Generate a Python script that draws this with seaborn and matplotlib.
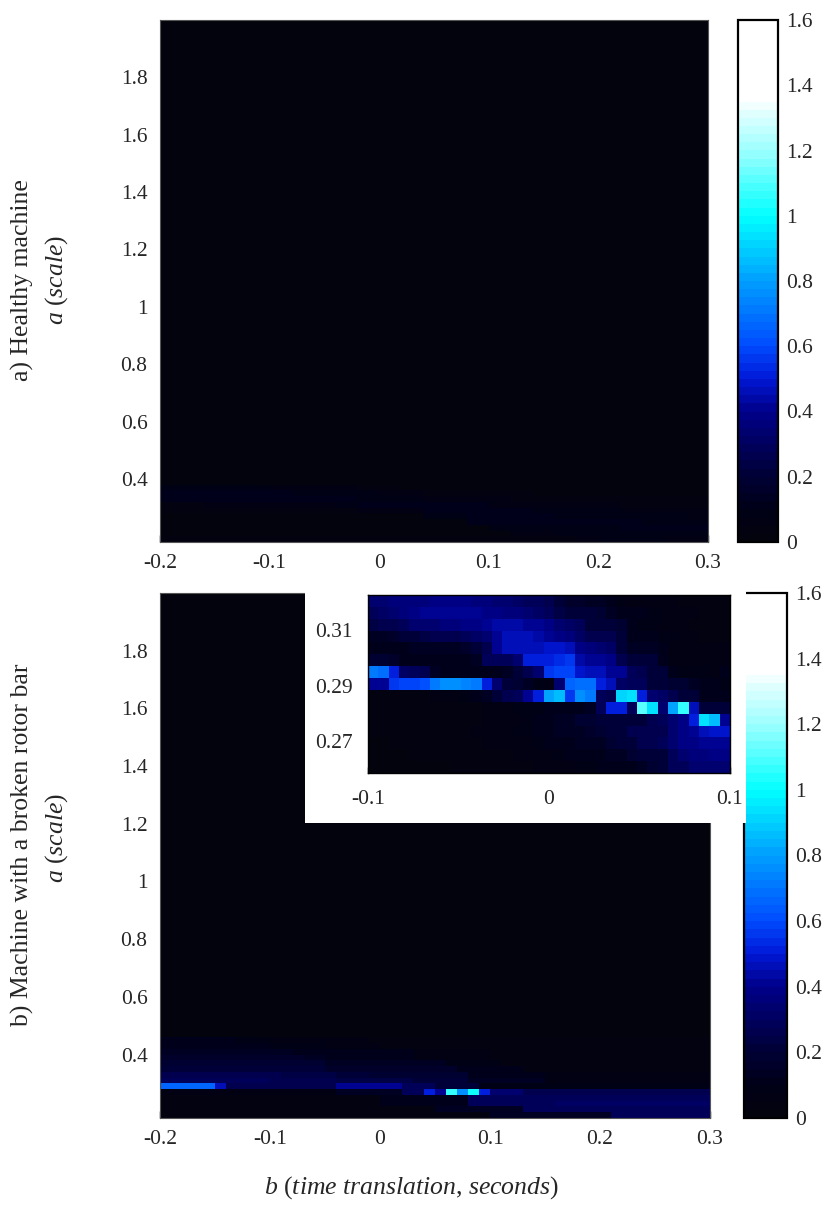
import numpy as np
import matplotlib
matplotlib.use("Agg")
import matplotlib.pyplot as plt
from matplotlib.colors import LinearSegmentedColormap
from matplotlib.patches import Rectangle
import seaborn as sns

# ---- grids -------------------------------------------------------------
a_max, a_min, a_step = 2.0, 0.18, 0.02          # scale axis of both main panels
b_min_main = -0.2
b_step_top = 0.02                               # healthy panel: 25 columns
b_step_bot = 0.01                               # broken bar panel: 50 columns
inset_a_top, inset_a_bot = 0.3224, 0.2587        # zoomed window
inset_b_min, inset_b_max = -0.1, 0.1

cbar_ticks = [0, 0.2, 0.4, 0.6, 0.8, 1.0, 1.2, 1.4, 1.6]
main_xticks = [-0.2, -0.1, 0, 0.1, 0.2, 0.3]
main_yticks = [0.4, 0.6, 0.8, 1.0, 1.2, 1.4, 1.6, 1.8]
inset_xticks = [-0.1, 0, 0.1]
inset_yticks = [0.31, 0.29, 0.27]

# ---- a) healthy machine: rows a = 0.37 ... 0.19 (everything above is ~0)
healthy_band = [
    [0.08, 0.08, 0.09, 0.08, 0.08, 0.07, 0.07, 0.06, 0.05, 0.03, 0.03, 0.02, 0.02, 0.02, 0.02, 0.02, 0.02, 0.02, 0.02, 0.02, 0.02, 0.02, 0.02, 0.02, 0.02],
    [0.10, 0.10, 0.11, 0.10, 0.10, 0.10, 0.09, 0.09, 0.08, 0.08, 0.06, 0.05, 0.03, 0.03, 0.03, 0.03, 0.03, 0.02, 0.02, 0.02, 0.02, 0.02, 0.02, 0.02, 0.02],
    [0.12, 0.12, 0.12, 0.11, 0.11, 0.11, 0.10, 0.10, 0.10, 0.09, 0.08, 0.08, 0.07, 0.06, 0.06, 0.05, 0.04, 0.03, 0.03, 0.03, 0.03, 0.03, 0.03, 0.03, 0.03],
    [0.04, 0.04, 0.05, 0.05, 0.05, 0.06, 0.06, 0.07, 0.08, 0.12, 0.12, 0.12, 0.12, 0.11, 0.10, 0.06, 0.05, 0.05, 0.05, 0.05, 0.05, 0.04, 0.04, 0.04, 0.04],
    [0.03, 0.03, 0.03, 0.03, 0.03, 0.03, 0.03, 0.04, 0.04, 0.05, 0.06, 0.07, 0.10, 0.10, 0.10, 0.10, 0.10, 0.09, 0.09, 0.08, 0.08, 0.07, 0.07, 0.06, 0.06],
    [0.02, 0.02, 0.02, 0.02, 0.02, 0.02, 0.02, 0.02, 0.02, 0.02, 0.02, 0.02, 0.09, 0.09, 0.10, 0.10, 0.10, 0.10, 0.09, 0.09, 0.09, 0.08, 0.08, 0.08, 0.07],
    [0.02, 0.02, 0.02, 0.02, 0.02, 0.02, 0.02, 0.02, 0.02, 0.02, 0.02, 0.02, 0.02, 0.02, 0.10, 0.10, 0.10, 0.10, 0.10, 0.10, 0.10, 0.10, 0.09, 0.09, 0.09],
    [0.02, 0.02, 0.02, 0.02, 0.02, 0.02, 0.02, 0.02, 0.02, 0.02, 0.02, 0.02, 0.02, 0.02, 0.02, 0.08, 0.08, 0.09, 0.09, 0.09, 0.09, 0.10, 0.10, 0.10, 0.10],
    [0.02, 0.02, 0.02, 0.02, 0.02, 0.02, 0.02, 0.02, 0.02, 0.02, 0.02, 0.02, 0.02, 0.02, 0.02, 0.02, 0.07, 0.07, 0.08, 0.08, 0.08, 0.09, 0.09, 0.09, 0.09],
    [0.03, 0.03, 0.03, 0.03, 0.03, 0.03, 0.03, 0.03, 0.03, 0.03, 0.03, 0.03, 0.03, 0.03, 0.03, 0.03, 0.03, 0.03, 0.04, 0.06, 0.08, 0.08, 0.08, 0.06, 0.05],
]

# ---- b) broken rotor bar: rows a = 0.45 ... 0.19, 50 columns of 0.01 s
broken_band = [
    [0.10, 0.10, 0.10, 0.10, 0.10, 0.10, 0.10, 0.09, 0.09, 0.08, 0.06, 0.06, 0.06, 0.06, 0.06, 0.05, 0.05, 0.05, 0.05, 0.04, 0.03, 0.03, 0.03, 0.03, 0.03,
     0.03, 0.03, 0.03, 0.03, 0.03, 0.03, 0.03, 0.03, 0.03, 0.03, 0.03, 0.03, 0.03, 0.03, 0.03, 0.03, 0.03, 0.03, 0.03, 0.03, 0.03, 0.03, 0.03, 0.03, 0.03],
    [0.12, 0.12, 0.12, 0.12, 0.12, 0.11, 0.11, 0.10, 0.10, 0.10, 0.08, 0.08, 0.08, 0.08, 0.08, 0.07, 0.07, 0.06, 0.06, 0.05, 0.04, 0.04, 0.04, 0.04, 0.04,
     0.04, 0.04, 0.04, 0.04, 0.03, 0.03, 0.03, 0.03, 0.03, 0.03, 0.03, 0.03, 0.03, 0.03, 0.03, 0.03, 0.03, 0.03, 0.03, 0.03, 0.03, 0.03, 0.03, 0.03, 0.03],
    [0.15, 0.15, 0.15, 0.15, 0.15, 0.15, 0.15, 0.15, 0.15, 0.15, 0.14, 0.13, 0.12, 0.10, 0.10, 0.10, 0.10, 0.10, 0.10, 0.10, 0.10, 0.10, 0.10, 0.06, 0.06,
     0.06, 0.06, 0.06, 0.06, 0.06, 0.03, 0.03, 0.03, 0.03, 0.03, 0.03, 0.03, 0.03, 0.03, 0.03, 0.03, 0.03, 0.03, 0.03, 0.03, 0.03, 0.03, 0.03, 0.03, 0.03],
    [0.17, 0.17, 0.17, 0.17, 0.17, 0.17, 0.17, 0.17, 0.17, 0.17, 0.16, 0.16, 0.16, 0.13, 0.13, 0.12, 0.12, 0.12, 0.12, 0.12, 0.12, 0.12, 0.12, 0.07, 0.07,
     0.07, 0.07, 0.07, 0.07, 0.07, 0.03, 0.03, 0.03, 0.03, 0.03, 0.03, 0.03, 0.03, 0.03, 0.03, 0.03, 0.03, 0.03, 0.03, 0.03, 0.03, 0.03, 0.03, 0.03, 0.03],
    [0.19, 0.19, 0.19, 0.19, 0.19, 0.19, 0.19, 0.19, 0.19, 0.19, 0.19, 0.18, 0.18, 0.18, 0.18, 0.15, 0.15, 0.15, 0.14, 0.14, 0.14, 0.14, 0.14, 0.14, 0.14,
     0.14, 0.08, 0.08, 0.08, 0.08, 0.08, 0.04, 0.04, 0.04, 0.04, 0.04, 0.04, 0.04, 0.04, 0.04, 0.04, 0.04, 0.04, 0.04, 0.04, 0.04, 0.04, 0.04, 0.04, 0.04],
    [0.22, 0.22, 0.22, 0.22, 0.22, 0.22, 0.22, 0.22, 0.22, 0.22, 0.22, 0.21, 0.21, 0.21, 0.21, 0.17, 0.17, 0.17, 0.17, 0.16, 0.16, 0.16, 0.16, 0.16, 0.16,
     0.16, 0.16, 0.10, 0.10, 0.10, 0.10, 0.10, 0.10, 0.04, 0.04, 0.04, 0.04, 0.04, 0.04, 0.04, 0.04, 0.04, 0.04, 0.04, 0.04, 0.04, 0.04, 0.04, 0.04, 0.04],
    [0.25, 0.25, 0.25, 0.25, 0.25, 0.25, 0.25, 0.25, 0.25, 0.25, 0.25, 0.24, 0.24, 0.24, 0.24, 0.24, 0.20, 0.20, 0.20, 0.19, 0.19, 0.19, 0.18, 0.18, 0.18,
     0.18, 0.18, 0.18, 0.12, 0.12, 0.12, 0.12, 0.12, 0.12, 0.12, 0.05, 0.05, 0.05, 0.05, 0.05, 0.05, 0.05, 0.05, 0.05, 0.05, 0.05, 0.05, 0.05, 0.05, 0.05],
    [0.28, 0.28, 0.28, 0.28, 0.28, 0.28, 0.28, 0.28, 0.28, 0.28, 0.27, 0.27, 0.27, 0.27, 0.27, 0.27, 0.24, 0.24, 0.24, 0.24, 0.23, 0.23, 0.23, 0.22, 0.22,
     0.22, 0.22, 0.22, 0.15, 0.15, 0.15, 0.15, 0.15, 0.15, 0.15, 0.06, 0.06, 0.06, 0.06, 0.06, 0.06, 0.06, 0.06, 0.06, 0.06, 0.06, 0.06, 0.06, 0.06, 0.06],
    [0.65, 0.65, 0.65, 0.65, 0.65, 0.45, 0.25, 0.25, 0.25, 0.25, 0.25, 0.25, 0.25, 0.25, 0.25, 0.25, 0.40, 0.40, 0.40, 0.40, 0.40, 0.40, 0.30, 0.30, 0.30,
     0.20, 0.20, 0.20, 0.20, 0.08, 0.08, 0.08, 0.08, 0.08, 0.08, 0.08, 0.08, 0.08, 0.08, 0.08, 0.08, 0.08, 0.08, 0.08, 0.08, 0.08, 0.08, 0.08, 0.08, 0.08],
    [0.05, 0.05, 0.05, 0.05, 0.05, 0.05, 0.05, 0.05, 0.05, 0.05, 0.05, 0.05, 0.05, 0.05, 0.05, 0.05, 0.15, 0.15, 0.15, 0.15, 0.15, 0.15, 0.30, 0.30, 0.50,
     0.40, 1.05, 0.75, 1.00, 0.50, 0.35, 0.35, 0.35, 0.25, 0.25, 0.25, 0.25, 0.25, 0.25, 0.25, 0.25, 0.25, 0.25, 0.25, 0.25, 0.25, 0.25, 0.25, 0.25, 0.25],
    [0.04, 0.04, 0.04, 0.04, 0.04, 0.04, 0.04, 0.04, 0.04, 0.04, 0.04, 0.04, 0.04, 0.04, 0.04, 0.04, 0.04, 0.04, 0.04, 0.04, 0.10, 0.10, 0.10, 0.10, 0.10,
     0.10, 0.10, 0.10, 0.30, 0.30, 0.30, 0.30, 0.30, 0.30, 0.30, 0.30, 0.30, 0.30, 0.30, 0.30, 0.30, 0.30, 0.30, 0.30, 0.30, 0.30, 0.30, 0.30, 0.30, 0.30],
    [0.03, 0.03, 0.03, 0.03, 0.03, 0.03, 0.03, 0.03, 0.03, 0.03, 0.03, 0.03, 0.03, 0.03, 0.03, 0.03, 0.03, 0.03, 0.03, 0.03, 0.10, 0.10, 0.10, 0.10, 0.10,
     0.10, 0.10, 0.10, 0.28, 0.28, 0.28, 0.28, 0.28, 0.28, 0.28, 0.28, 0.32, 0.32, 0.32, 0.32, 0.32, 0.32, 0.32, 0.32, 0.32, 0.32, 0.32, 0.32, 0.32, 0.32],
    [0.03, 0.03, 0.03, 0.03, 0.03, 0.03, 0.03, 0.03, 0.03, 0.03, 0.03, 0.03, 0.03, 0.03, 0.03, 0.03, 0.03, 0.03, 0.03, 0.03, 0.03, 0.03, 0.03, 0.03, 0.03,
     0.15, 0.15, 0.15, 0.15, 0.15, 0.15, 0.15, 0.15, 0.30, 0.30, 0.30, 0.30, 0.30, 0.30, 0.30, 0.30, 0.30, 0.30, 0.30, 0.30, 0.30, 0.30, 0.30, 0.30, 0.30],
    [0.03, 0.03, 0.03, 0.03, 0.03, 0.03, 0.03, 0.03, 0.03, 0.03, 0.03, 0.03, 0.03, 0.03, 0.03, 0.03, 0.03, 0.03, 0.03, 0.03, 0.03, 0.03, 0.03, 0.03, 0.03,
     0.03, 0.03, 0.03, 0.03, 0.03, 0.15, 0.15, 0.15, 0.15, 0.15, 0.15, 0.15, 0.15, 0.15, 0.15, 0.15, 0.30, 0.30, 0.30, 0.30, 0.30, 0.30, 0.30, 0.30, 0.30],
]

# ---- inset: a = 0.322 ... 0.259 (15 rows), b = -0.1 ... 0.1 (35 columns)
inset_vals = [
    [0.33, 0.34, 0.36, 0.36, 0.37, 0.37, 0.38, 0.38, 0.38, 0.38, 0.37, 0.36, 0.35, 0.34, 0.32, 0.30, 0.28, 0.26, 0.20, 0.17, 0.16, 0.15, 0.14, 0.12, 0.08, 0.06, 0.05, 0.05, 0.05, 0.05, 0.04, 0.04, 0.04, 0.04, 0.04],
    [0.30, 0.31, 0.34, 0.37, 0.39, 0.40, 0.40, 0.41, 0.41, 0.41, 0.40, 0.39, 0.38, 0.37, 0.36, 0.34, 0.32, 0.30, 0.24, 0.22, 0.21, 0.20, 0.18, 0.15, 0.12, 0.10, 0.10, 0.08, 0.06, 0.05, 0.05, 0.05, 0.04, 0.04, 0.04],
    [0.24, 0.25, 0.27, 0.30, 0.33, 0.35, 0.35, 0.36, 0.36, 0.38, 0.39, 0.41, 0.43, 0.43, 0.43, 0.42, 0.41, 0.38, 0.33, 0.31, 0.28, 0.22, 0.20, 0.20, 0.18, 0.12, 0.08, 0.08, 0.07, 0.06, 0.05, 0.04, 0.04, 0.04, 0.04],
    [0.15, 0.15, 0.17, 0.20, 0.22, 0.24, 0.25, 0.25, 0.26, 0.28, 0.31, 0.35, 0.42, 0.45, 0.45, 0.45, 0.44, 0.42, 0.39, 0.37, 0.31, 0.26, 0.25, 0.25, 0.20, 0.12, 0.10, 0.10, 0.08, 0.08, 0.06, 0.05, 0.04, 0.04, 0.04],
    [0.10, 0.10, 0.10, 0.12, 0.13, 0.15, 0.15, 0.15, 0.15, 0.16, 0.20, 0.26, 0.42, 0.45, 0.46, 0.47, 0.47, 0.48, 0.49, 0.45, 0.38, 0.36, 0.35, 0.32, 0.20, 0.15, 0.15, 0.15, 0.12, 0.06, 0.05, 0.05, 0.05, 0.05, 0.05],
    [0.18, 0.18, 0.16, 0.10, 0.10, 0.10, 0.10, 0.10, 0.10, 0.12, 0.13, 0.28, 0.30, 0.30, 0.33, 0.50, 0.50, 0.50, 0.54, 0.55, 0.44, 0.41, 0.40, 0.38, 0.25, 0.20, 0.20, 0.20, 0.12, 0.07, 0.07, 0.07, 0.06, 0.06, 0.06],
    [0.72, 0.70, 0.50, 0.32, 0.30, 0.25, 0.15, 0.12, 0.10, 0.10, 0.10, 0.12, 0.12, 0.15, 0.22, 0.25, 0.35, 0.55, 0.60, 0.60, 0.48, 0.45, 0.45, 0.42, 0.40, 0.28, 0.25, 0.22, 0.20, 0.10, 0.08, 0.08, 0.08, 0.06, 0.10],
    [0.42, 0.42, 0.55, 0.58, 0.60, 0.62, 0.72, 0.75, 0.76, 0.74, 0.72, 0.50, 0.35, 0.22, 0.18, 0.15, 0.08, 0.06, 0.35, 0.65, 0.70, 0.68, 0.50, 0.45, 0.32, 0.30, 0.28, 0.20, 0.20, 0.18, 0.18, 0.15, 0.10, 0.10, 0.08],
    [0.03, 0.03, 0.03, 0.03, 0.03, 0.04, 0.05, 0.05, 0.06, 0.08, 0.10, 0.15, 0.20, 0.25, 0.30, 0.40, 0.50, 0.80, 0.85, 0.55, 0.75, 0.72, 0.30, 0.25, 0.92, 0.95, 0.50, 0.35, 0.32, 0.25, 0.22, 0.20, 0.12, 0.10, 0.10],
    [0.03, 0.03, 0.03, 0.03, 0.03, 0.03, 0.03, 0.03, 0.03, 0.04, 0.04, 0.05, 0.05, 0.06, 0.08, 0.08, 0.08, 0.10, 0.12, 0.12, 0.12, 0.15, 0.28, 0.50, 0.50, 0.30, 1.10, 0.95, 0.35, 0.80, 1.05, 0.45, 0.22, 0.20, 0.20],
    [0.03, 0.03, 0.03, 0.03, 0.03, 0.03, 0.03, 0.03, 0.03, 0.04, 0.04, 0.05, 0.05, 0.06, 0.06, 0.08, 0.10, 0.12, 0.15, 0.15, 0.18, 0.18, 0.20, 0.20, 0.20, 0.22, 0.22, 0.25, 0.28, 0.35, 0.38, 0.50, 0.95, 0.85, 0.40],
    [0.03, 0.03, 0.03, 0.03, 0.03, 0.03, 0.03, 0.04, 0.04, 0.04, 0.05, 0.05, 0.06, 0.06, 0.08, 0.08, 0.10, 0.12, 0.14, 0.15, 0.15, 0.16, 0.18, 0.20, 0.22, 0.25, 0.25, 0.25, 0.25, 0.35, 0.38, 0.42, 0.46, 0.48, 0.48],
    [0.02, 0.02, 0.03, 0.03, 0.03, 0.03, 0.03, 0.03, 0.03, 0.04, 0.04, 0.05, 0.05, 0.05, 0.06, 0.06, 0.08, 0.10, 0.12, 0.12, 0.14, 0.15, 0.15, 0.18, 0.20, 0.22, 0.25, 0.25, 0.28, 0.35, 0.38, 0.38, 0.40, 0.42, 0.42],
    [0.02, 0.02, 0.02, 0.02, 0.03, 0.03, 0.03, 0.03, 0.03, 0.03, 0.03, 0.04, 0.04, 0.04, 0.05, 0.05, 0.06, 0.06, 0.08, 0.10, 0.10, 0.12, 0.12, 0.14, 0.15, 0.18, 0.20, 0.20, 0.22, 0.30, 0.33, 0.36, 0.36, 0.38, 0.38],
    [0.02, 0.02, 0.02, 0.02, 0.02, 0.02, 0.02, 0.02, 0.03, 0.03, 0.03, 0.03, 0.03, 0.04, 0.04, 0.04, 0.05, 0.05, 0.06, 0.06, 0.08, 0.08, 0.10, 0.10, 0.12, 0.12, 0.15, 0.18, 0.20, 0.28, 0.30, 0.33, 0.33, 0.35, 0.35],
]

# ---- style ---------------------------------------------------------------
sns.set_theme(style="white")
plt.rcParams["font.family"] = ["Liberation Serif", "DejaVu Serif"]
plt.rcParams["mathtext.fontset"] = "custom"
plt.rcParams["mathtext.rm"] = "Liberation Serif"
plt.rcParams["mathtext.it"] = "Liberation Serif:italic"

cmap = LinearSegmentedColormap.from_list("scalogram", [
    (0.0, (0.01, 0.01, 0.05)),
    (0.1 / 1.6, (0.0, 0.0, 0.10)),
    (0.2 / 1.6, (0.0, 0.0, 0.22)),
    (0.4 / 1.6, (0.0, 0.0, 0.55)),
    (0.5 / 1.6, (0.0, 0.1, 0.85)),
    (0.6 / 1.6, (0.0, 0.3, 1.0)),
    (0.8 / 1.6, (0.0, 0.62, 1.0)),
    (1.0 / 1.6, (0.0, 1.0, 1.0)),
    (1.2 / 1.6, (0.6, 1.0, 1.0)),
    (1.34 / 1.6, (0.92, 1.0, 1.0)),
    (1.36 / 1.6, (1.0, 1.0, 1.0)),
    (1.0, (1.0, 1.0, 1.0)),
], N=64)

W, H = 825, 1209
fig = plt.figure(figsize=(W / 100, H / 100), dpi=100)


def box(x0, y0, x1, y1):
    # pixel box (top-left origin) -> figure fraction rect
    return [x0 / W, 1 - y1 / H, (x1 - x0) / W, (y1 - y0) / H]


tick_fs = 15.5
label_fs = 18.5


def full_matrix(band, ncols):
    n_rows = int(round((a_max - a_min) / a_step))
    zeros = np.zeros((n_rows - len(band), ncols))
    return np.vstack([zeros, np.array(band)])


def fmt(v):
    return "%g" % v


def style_main(ax, b_step):
    ax.set_xticks([(v - b_min_main) / b_step for v in main_xticks])
    ax.set_xticklabels([fmt(v) for v in main_xticks])
    ax.set_yticks([(a_max - v) / a_step for v in main_yticks])
    ax.set_yticklabels([fmt(v) for v in main_yticks], rotation=0)
    ax.tick_params(direction="in", length=5, width=1, color="black",
                   labelsize=tick_fs, pad=9, bottom=True, left=True)
    for s in ax.spines.values():
        s.set_visible(True)
        s.set_color("#555555")
        s.set_linewidth(0.8)


def style_cbar(ax, cax):
    cb = ax.collections[0].colorbar
    cb.outline.set_linewidth(1.6)
    cb.outline.set_edgecolor("black")
    cb.set_ticks(cbar_ticks)
    cb.set_ticklabels([fmt(v) for v in cbar_ticks])
    cax.tick_params(direction="in", length=5, width=1.2, color="black",
                    left=True, right=True, labelleft=False, labelright=True,
                    labelsize=tick_fs, pad=6)


# ---- a) healthy machine ---------------------------------------------------
ax_top = fig.add_axes(box(160, 20, 708, 542))
cax_top = fig.add_axes(box(738, 20, 778, 542))
healthy = full_matrix(healthy_band, len(healthy_band[0]))
sns.heatmap(healthy, ax=ax_top, cmap=cmap, vmin=0, vmax=1.6,
            cbar_ax=cax_top, xticklabels=False, yticklabels=False)
style_main(ax_top, b_step_top)
style_cbar(ax_top, cax_top)

# ---- b) broken rotor bar ----------------------------------------------------
ax_bot = fig.add_axes(box(160, 593, 710, 1118))
cax_bot = fig.add_axes(box(744, 593, 787, 1118))
broken = full_matrix(broken_band, len(broken_band[0]))
sns.heatmap(broken, ax=ax_bot, cmap=cmap, vmin=0, vmax=1.6,
            cbar_ax=cax_bot, xticklabels=False, yticklabels=False)
style_main(ax_bot, b_step_bot)
style_cbar(ax_bot, cax_bot)
ax_bot.set_zorder(1)
cax_bot.set_zorder(1)

# white backing of the inset
fig.add_artist(Rectangle((305 / W, 1 - 823 / H), 441 / W, 255 / H,
                         transform=fig.transFigure, facecolor="white",
                         edgecolor="none", zorder=2))

# ---- inset (zoom around a = 0.29) -------------------------------------------
ax_in = fig.add_axes(box(368, 595, 730, 773))
ax_in.set_zorder(3)
inset = np.array(inset_vals)
sns.heatmap(inset, ax=ax_in, cmap=cmap, vmin=0, vmax=1.6, cbar=False,
            xticklabels=False, yticklabels=False)
n_in_r, n_in_c = inset.shape
in_a_step = (inset_a_top - inset_a_bot) / n_in_r
in_b_step = (inset_b_max - inset_b_min) / n_in_c
ax_in.set_xticks([(v - inset_b_min) / in_b_step for v in inset_xticks])
ax_in.set_xticklabels([fmt(v) for v in inset_xticks])
ax_in.set_yticks([(inset_a_top - v) / in_a_step for v in inset_yticks])
ax_in.set_yticklabels(["%.2f" % v for v in inset_yticks], rotation=0)
ax_in.tick_params(direction="in", length=4, width=1, color="black",
                  labelsize=tick_fs, bottom=True, left=True)
ax_in.tick_params(axis="y", pad=11)
ax_in.tick_params(axis="x", pad=12)
for s in ax_in.spines.values():
    s.set_visible(True)
    s.set_color("black")
    s.set_linewidth(1.0)

# ---- labels -------------------------------------------------------------------
fig.text(22 / W, 1 - 280 / H, "a) Healthy machine", rotation=90,
         ha="center", va="center", fontsize=label_fs)
fig.text(57 / W, 1 - 280 / H, r"$\mathit{a}$ ($\mathit{scale}$)", rotation=90,
         ha="center", va="center", fontsize=label_fs)
fig.text(22 / W, 1 - 845 / H, "b) Machine with a broken rotor bar", rotation=90,
         ha="center", va="center", fontsize=label_fs)
fig.text(57 / W, 1 - 838 / H, r"$\mathit{a}$ ($\mathit{scale}$)", rotation=90,
         ha="center", va="center", fontsize=label_fs)
fig.text(411 / W, 1 - 1188 / H,
         r"$\mathit{b}$ ($\mathit{time\ translation{,}\ seconds}$)",
         ha="center", va="center", fontsize=label_fs)

fig.savefig("out.png", dpi=100)
